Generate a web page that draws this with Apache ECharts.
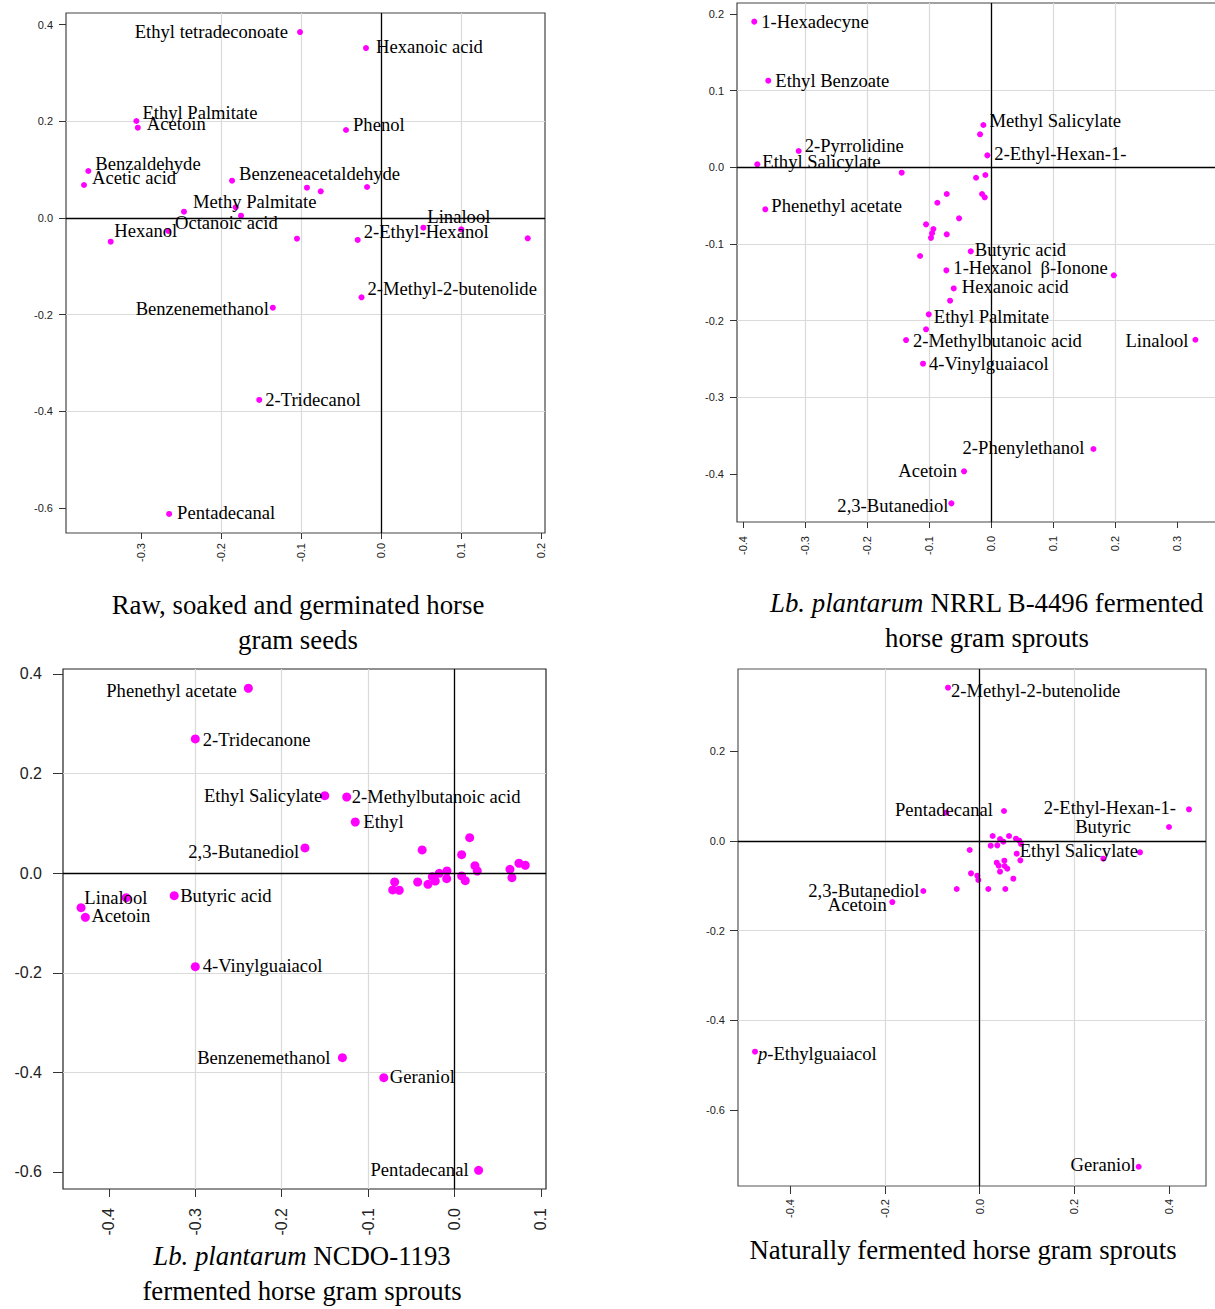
<!DOCTYPE html>
<html>
<head>
<meta charset="utf-8">
<script src="https://cdn.jsdelivr.net/npm/echarts@6/dist/echarts.min.js"></script>
<style>
html,body{margin:0;padding:0;background:#fff;}
#c{width:1215px;height:1309px;}
</style>
</head>
<body>
<div id="c"></div>
<script>
// ---------- Panel 1: Raw, soaked and germinated horse gram seeds ----------
const p1Names = ['Ethyl tetradeconoate','Hexanoic acid','Ethyl Palmitate','Acetoin','Phenol','Benzaldehyde','Acetic acid','Benzeneacetaldehyde','','','','Methy Palmitate','','Octanoic acid','Hexanol','','','2-Ethyl-Hexanol','Linalool','','','2-Methyl-2-butenolide','Benzenemethanol','2-Tridecanol','Pentadecanal'];
const p1X = [-0.1014,-0.0189,-0.306,-0.3042,-0.0439,-0.3661,-0.3715,-0.1864,-0.0927,-0.0755,-0.0176,-0.2465,-0.1818,-0.1752,-0.2661,-0.3381,-0.1052,-0.0293,0.0528,0.1003,0.1833,-0.0245,-0.1354,-0.1524,-0.2651];
const p1Y = [0.3846,0.3515,0.2005,0.1866,0.1819,0.097,0.0681,0.077,0.0625,0.055,0.0639,0.0128,0.0219,0.0046,-0.0271,-0.0492,-0.043,-0.0457,-0.0203,-0.0236,-0.0422,-0.1643,-0.1858,-0.3768,-0.6127];
const p1XTicks = [-0.3,-0.2,-0.1,0,0.1,0.2];
const p1YTicks = [-0.6,-0.4,-0.2,0,0.2,0.4];

// ---------- Panel 2: Lb. plantarum NRRL B-4496 ----------
const p2Names = ['1-Hexadecyne','Ethyl Benzoate','Methyl Salicylate','','2-Pyrrolidine','2-Ethyl-Hexan-1-','Ethyl Salicylate','','','','','','','','Phenethyl acetate','','','','','','','Butyric acid','','1-Hexanol','β-Ionone','Hexanoic acid','','Ethyl Palmitate','','2-Methylbutanoic acid','4-Vinylguaiacol','Linalool','2-Phenylethanol','Acetoin','2,3-Butanediol'];
const p2X = [-0.3824,-0.3598,-0.0124,-0.0178,-0.3107,-0.006,-0.3775,-0.1443,-0.0242,-0.0092,-0.0716,-0.0145,-0.0102,-0.0867,-0.3646,-0.0517,-0.105,-0.0932,-0.0953,-0.097,-0.0716,-0.0328,-0.1147,-0.0722,0.1982,-0.0603,-0.0662,-0.1006,-0.105,-0.1373,-0.1099,0.330,0.1653,-0.0436,-0.0641];
const p2Y = [0.190,0.113,0.0552,0.043,0.0213,0.0156,0.0039,-0.007,-0.0136,-0.010,-0.0348,-0.0348,-0.0391,-0.0462,-0.0548,-0.0665,-0.0744,-0.0805,-0.086,-0.092,-0.0874,-0.1096,-0.1157,-0.1344,-0.1409,-0.158,-0.174,-0.1918,-0.2113,-0.2253,-0.2561,-0.2249,-0.3674,-0.3965,-0.4383];
const p2XTicks = [-0.4,-0.3,-0.2,-0.1,0,0.1,0.2,0.3];
const p2YTicks = [-0.4,-0.3,-0.2,-0.1,0,0.1,0.2];

// ---------- Panel 3: Lb. plantarum NCDO-1193 ----------
const p3Names = ['Phenethyl acetate','2-Tridecanone','Ethyl Salicylate','2-Methylbutanoic acid','Ethyl','2,3-Butanediol','Linalool','','Acetoin','Butyric acid','4-Vinylguaiacol','Benzenemethanol','Geraniol','Pentadecanal','','','','','','','','','','','','','','','','','','','','',''];
const p3X = [-0.2385,-0.2999,-0.1501,-0.1247,-0.1148,-0.173,-0.4321,-0.3798,-0.4271,-0.3243,-0.2999,-0.1297,-0.0818,0.0279,-0.0374,0.0176,0.0083,0.0237,0.0264,0.0746,0.0819,0.0642,0.0665,0.0083,0.0125,-0.0087,-0.009,-0.0176,-0.0222,-0.0256,-0.0307,-0.0426,-0.0692,-0.0715,-0.0639];
const p3Y = [0.3713,0.2695,0.1556,0.153,0.1028,0.0506,-0.0693,-0.0492,-0.0886,-0.0452,-0.1878,-0.3705,-0.4106,-0.5966,0.0466,0.0713,0.0371,0.0151,0.0044,0.0199,0.0159,0.0078,-0.009,-0.0056,-0.0151,0.0044,-0.011,-0.0002,-0.0157,-0.007,-0.0223,-0.0177,-0.0177,-0.0337,-0.0343];
const p3XTicks = [-0.4,-0.3,-0.2,-0.1,0,0.1];
const p3YTicks = [-0.6,-0.4,-0.2,0,0.2,0.4];

// ---------- Panel 4: Naturally fermented horse gram sprouts ----------
const p4Names = ['2-Methyl-2-butenolide','','Pentadecanal','2-Ethyl-Hexan-1-','Butyric','Ethyl Salicylate','','2,3-Butanediol','Acetoin','p-Ethylguaiacol','Geraniol','','','','','','','','','','','','','','','','','','','','','','','','',''];
const p4X = [-0.0665,-0.0701,0.0517,0.4422,0.40,0.3388,0.2613,-0.1186,-0.1841,-0.4739,0.336,0.0278,0.0433,0.0503,0.0623,0.077,0.084,0.0876,0.0236,0.0376,-0.0207,0.0785,0.0862,0.0363,0.0405,0.0524,0.0531,0.0587,0.0433,-0.018,-0.0046,-0.0025,0.0714,-0.0481,0.0186,0.0545];
const p4Y = [0.3422,0.0632,0.067,0.0708,0.0313,-0.0252,-0.0395,-0.1116,-0.1362,-0.4703,-0.727,0.0112,0.0045,-0.0015,0.0112,0.0052,0.0007,-0.0067,-0.0104,-0.0097,-0.0201,-0.0283,-0.0432,-0.0484,-0.0551,-0.044,-0.0558,-0.0618,-0.0685,-0.0722,-0.0774,-0.087,-0.0841,-0.1071,-0.1071,-0.1071];
const p4XTicks = [-0.4,-0.2,0,0.2,0.4];
const p4YTicks = [-0.6,-0.4,-0.2,0,0.2];

// ---------- Label placement (side, gap from point to text edge, vertical shift) ----------
const p1Place = [['l',12,-1],['r',10,-2],['r',6,-9],['r',9,-4],['r',7,-5],['r',7,-8],['r',8,-7],['r',7,-7],null,null,null,['r',9,-10],null,['r',-66,7],['l',-9,0],null,null,['r',6,-8],['r',4,-11],null,null,['r',6,-9],['l',4,1],['r',6,0],['r',8,-1]];
const p2Place = [['r',7,0],['r',7,0],['r',6,-4],null,['r',6,-5],['r',7,-2],['r',5,-3],null,null,null,null,null,null,null,['r',6,-4],null,null,null,null,null,null,['r',4,-2],null,['r',7,-3],['l',6,-8],['r',8,-2],null,['r',5,2],null,['r',7,0],['r',6,0],['l',7,1],['l',9,-2],['l',7,-1],['l',3,2]];
const p3Place = [['l',11.5,2],['r',7.5,1],['l',2.5,0],['r',5,0],['r',8,0],['l',5.7,4],['r',3.3,-10],null,['r',6,-2],['r',6,0],['r',7.5,-1],['l',12,0],['r',6,-1],['l',10,-1]];
const p4Place = [['r',3,3],null,['l',11,-1],['l',13,-2],['l',38,0],['l',2,-2],null,['l',4,-1],['l',5.6,2],['r',3,2],['l',3,-2]];

const titleLines = [
  {x:298, y:605, text:'Raw, soaked and germinated horse'},
  {x:298, y:640, text:'gram seeds'},
  {x:987, y:603, text:'{i|Lb. plantarum} NRRL B-4496 fermented'},
  {x:987, y:638, text:'horse gram sprouts'},
  {x:302, y:1256, text:'{i|Lb. plantarum} NCDO-1193'},
  {x:302, y:1291, text:'fermented horse gram sprouts'},
  {x:963, y:1250, text:'Naturally fermented horse gram sprouts'}
];

const SERIF = '"Liberation Serif","Times New Roman",serif';
const SANS = '"Liberation Sans",Arial,sans-serif';
const LABEL_FS = 18.6;
const TITLE_FS = 26.8;

function buildData(xs, ys, names, place) {
  return xs.map(function (x, i) {
    const d = { value: [x, ys[i]], name: names[i] || '' };
    const p = place[i];
    if (names[i] && p) {
      const right = p[0] === 'r';
      d.label = {
        show: true, position: 'inside',
        align: right ? 'left' : 'right', verticalAlign: 'middle',
        offset: [right ? p[1] : -p[1], p[2]]
      };
    }
    return d;
  });
}

function fmt(v) { return Math.abs(v) < 1e-9 ? '0.0' : v.toFixed(1); }

const panels = [
  {grid:{left:66, top:13, width:479, height:520}, x:[-0.394,0.2049], y:[-0.6521,0.424], xt:p1XTicks, yt:p1YTicks,
   names:p1Names, xs:p1X, ys:p1Y, place:p1Place, sym:6, axFs:11, xTick:6, yTick:7, xMargin:10, yMargin:13, border:'#444'},
  {grid:{left:737, top:3, width:490, height:519}, x:[-0.4103,0.381], y:[-0.4626,0.2143], xt:p2XTicks, yt:p2YTicks,
   names:p2Names, xs:p2X, ys:p2Y, place:p2Place, sym:6, axFs:11, xTick:6, yTick:7, xMargin:14, yMargin:13, border:'#444'},
  {grid:{left:63, top:669, width:483, height:520}, x:[-0.453,0.1059], y:[-0.6342,0.41], xt:p3XTicks, yt:p3YTicks,
   names:p3Names, xs:p3X, ys:p3Y, place:p3Place, sym:9, axFs:16, xTick:8, yTick:10, xMargin:19, yMargin:21, border:'#222'},
  {grid:{left:738, top:669, width:468, height:517}, x:[-0.5098,0.4781], y:[-0.77,0.3839], xt:p4XTicks, yt:p4YTicks,
   names:p4Names, xs:p4X, ys:p4Y, place:p4Place, sym:6, axFs:11, xTick:8, yTick:8, xMargin:13, yMargin:13, border:'#555'}
];

function axis(i, isX, ext, ticks, P) {
  const iv = +(ticks[1] - ticks[0]).toFixed(4);
  return {
    type: 'value', gridIndex: i, min: ext[0], max: ext[1],
    minInterval: iv, maxInterval: iv,
    position: isX ? 'bottom' : 'left',
    axisLine: { show: false, onZero: false },
    axisTick: { show: true, inside: false, length: isX ? P.xTick : P.yTick, customValues: ticks,
                lineStyle: { color: '#333', width: 1 } },
    axisLabel: { show: true, customValues: ticks, rotate: isX ? 90 : 0,
                 margin: isX ? P.xMargin : P.yMargin, fontSize: P.axFs, fontFamily: SANS,
                 color: '#222', formatter: fmt },
    splitLine: { show: true, showMinLine: false, showMaxLine: false,
                 lineStyle: { color: '#dadada', width: 1.2 } }
  };
}

const option = {
  animation: false,
  backgroundColor: '#fff',
  grid: panels.map(function (P) {
    return Object.assign({ show: true, borderColor: P.border, borderWidth: 1.2,
      backgroundColor: 'transparent', containLabel: false, outerBoundsMode: 'none' }, P.grid);
  }),
  xAxis: panels.map(function (P, i) { return axis(i, true, P.x, P.xt, P); }),
  yAxis: panels.map(function (P, i) { return axis(i, false, P.y, P.yt, P); }),
  series: panels.map(function (P, i) {
    return {
      type: 'scatter', xAxisIndex: i, yAxisIndex: i, symbol: 'circle', symbolSize: P.sym,
      itemStyle: { color: '#ff00ff', opacity: 1, borderWidth: 0 },
      emphasis: { disabled: true },
      label: {
        show: false, color: '#000', fontFamily: SERIF, fontSize: LABEL_FS,
        textBorderWidth: 0, textBorderColor: 'transparent',
        formatter: function (p) {
          const n = p.name;
          return n.indexOf('p-') === 0 ? '{i|p}' + n.slice(1) : n;
        },
        rich: { i: { fontStyle: 'italic', fontFamily: SERIF, fontSize: LABEL_FS, color: '#000' } }
      },
      data: buildData(P.xs, P.ys, P.names, P.place),
      markLine: {
        silent: true, symbol: 'none', animation: false,
        label: { show: false },
        lineStyle: { color: '#000', width: 1.3, type: 'solid' },
        emphasis: { disabled: true },
        data: [{ xAxis: 0 }, { yAxis: 0 }]
      }
    };
  }),
  graphic: titleLines.map(function (t) {
    return {
      type: 'text', x: t.x, y: t.y, silent: true,
      style: {
        text: t.text, fontFamily: SERIF, fontSize: TITLE_FS, fill: '#000',
        align: 'center', verticalAlign: 'middle',
        rich: { i: { fontStyle: 'italic', fontFamily: SERIF, fontSize: TITLE_FS, fill: '#000' } }
      }
    };
  })
};

const chart = echarts.init(document.getElementById('c'), null, { renderer: 'svg' });
chart.setOption(option);
</script>
</body>
</html>
